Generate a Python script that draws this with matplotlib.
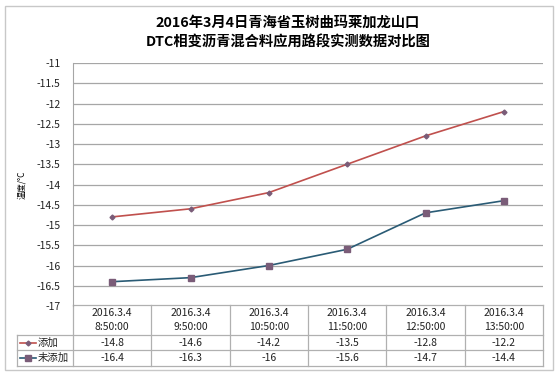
import matplotlib
matplotlib.use("Agg")
import matplotlib.pyplot as plt
from matplotlib.lines import Line2D
from matplotlib.patches import Rectangle
import numpy as np

plt.rcParams['font.family'] = ['Noto Sans CJK SC', 'DejaVu Sans']

categories = ["2016.3.4\n8:50:00", "2016.3.4\n9:50:00", "2016.3.4\n10:50:00",
              "2016.3.4\n11:50:00", "2016.3.4\n12:50:00", "2016.3.4\n13:50:00"]
added = [-14.8, -14.6, -14.2, -13.5, -12.8, -12.2]
not_added = [-16.4, -16.3, -16.0, -15.6, -14.7, -14.4]
series_names = ["添加", "未添加"]
title = "2016年3月4日青海省玉树曲玛莱加龙山口\nDTC相变沥青混合料应用路段实测数据对比图"
ylabel = "温度/°C"

W, H = 558, 376
fig = plt.figure(figsize=(W / 100, H / 100), dpi=100)
fig.patches.append(Rectangle((5 / W, 6 / H), 548 / W, 364 / H, transform=fig.transFigure,
                             fill=False, edgecolor='#c8c8c8', linewidth=1.0))

left, right, top, bottom = 73, 543, 63, 306
ax = fig.add_axes([left / W, 1 - bottom / H, (right - left) / W, (bottom - top) / H])

x = np.arange(len(categories))
red = '#c0504d'
blue = '#2a5b75'
mcol = '#7a5c78'
ax.plot(x, added, color=red, linewidth=1.2, marker='D', markersize=2.5,
        markerfacecolor=mcol, markeredgecolor=mcol, zorder=3)
ax.plot(x, not_added, color=blue, linewidth=1.2, marker='s', markersize=4,
        markerfacecolor=mcol, markeredgecolor=mcol, zorder=3)

ax.set_xlim(-0.5, len(categories) - 0.5)
ax.set_ylim(-17, -11)
yt = np.arange(-17, -10.99, 0.5)
ax.set_yticks(yt)
ax.set_yticklabels([f"{v:g}" for v in yt], fontsize=7.5, color='#222222')
ax.tick_params(axis='y', length=0, pad=9)
ax.set_xticks([])
ax.grid(axis='y', color='#a6a6a6', linewidth=0.9)
for s in ['top', 'right', 'bottom']:
    ax.spines[s].set_visible(False)
ax.spines['left'].set_color('#a6a6a6')

fig.text(22 / W, 1 - 185 / H, ylabel, rotation=90, fontsize=6, ha='center', va='center')
fig.text(288 / W, 1 - 33 / H, title, fontsize=10.3, fontweight='bold', ha='center',
         va='center', linespacing=1.5)

# data table below the axes
axw = right - left
axh = bottom - top
def fx(px):
    return (px - left) / axw
def fy(py):
    return (bottom - py) / axh

tbl_top, hdr_bot, r1_bot, r2_bot = 305, 335, 350, 366
lab_left = 17
cw = axw / len(categories)
lc = '#b0b0b0'
lk = dict(transform=ax.transAxes, clip_on=False, color=lc, linewidth=0.9)
# horizontal lines
ax.add_line(Line2D([fx(left), fx(right)], [fy(tbl_top)] * 2, **lk))
for yy in (hdr_bot, r1_bot, r2_bot):
    ax.add_line(Line2D([fx(lab_left), fx(right)], [fy(yy)] * 2, **lk))
# vertical lines
for i in range(len(categories) + 1):
    xx = left + i * cw
    ax.add_line(Line2D([fx(xx)] * 2, [fy(tbl_top), fy(r2_bot)], **lk))
ax.add_line(Line2D([fx(lab_left)] * 2, [fy(hdr_bot), fy(r2_bot)], **lk))

tk = dict(transform=ax.transAxes, clip_on=False, ha='center', va='center', fontsize=7.5,
          color='#222222')
for i, c in enumerate(categories):
    cx = fx(left + (i + 0.5) * cw)
    ax.text(cx, fy((tbl_top + hdr_bot) / 2), c, linespacing=1.5, **tk)
    ax.text(cx, fy((hdr_bot + r1_bot) / 2), f"{added[i]:g}", **tk)
    ax.text(cx, fy((r1_bot + r2_bot) / 2), f"{not_added[i]:g}", **tk)

# legend keys in row label cells
for yy0, yy1, col, mk, ms, name in [(hdr_bot, r1_bot, red, 'D', 2.5, series_names[0]),
                                    (r1_bot, r2_bot, blue, 's', 4, series_names[1])]:
    yc = fy((yy0 + yy1) / 2)
    ax.add_line(Line2D([fx(20), fx(36)], [yc, yc], transform=ax.transAxes, clip_on=False,
                       color=col, linewidth=1.2))
    ax.add_line(Line2D([fx(28)], [yc], transform=ax.transAxes, clip_on=False, marker=mk,
                       markersize=ms, color=mcol, linestyle='none'))
    ax.text(fx(38), yc, name, transform=ax.transAxes, clip_on=False, ha='left', va='center',
            fontsize=7.5, color='#222222')

fig.savefig("out.png", dpi=100)
